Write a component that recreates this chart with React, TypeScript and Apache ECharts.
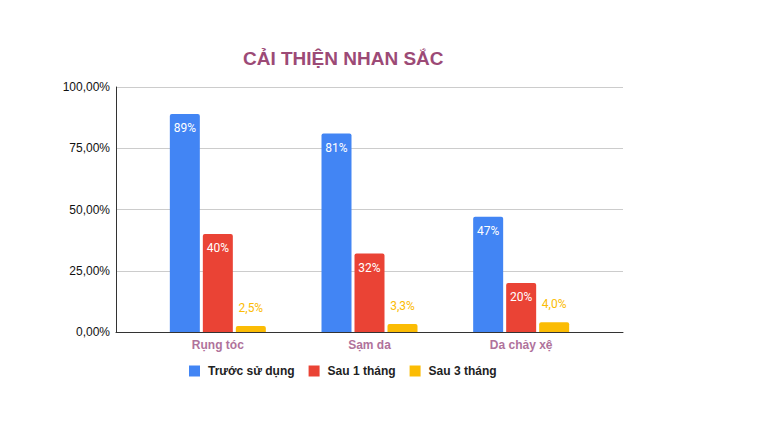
import React, { useEffect, useRef } from "react";
import * as echarts from "echarts";

const categories = ["Rụng tóc", "Sạm da", "Da chảy xệ"];
const seriesNames = ["Trước sử dụng", "Sau 1 tháng", "Sau 3 tháng"];
const truocSuDung = [0.89, 0.81, 0.47];
const sau1Thang = [0.40, 0.32, 0.20];
const sau3Thang = [0.025, 0.033, 0.04];

const colors = ["#4285F4", "#EA4335", "#FBBC04"];
const FONT = "'Liberation Sans', Arial, sans-serif";

function pct(v: number, digits: number) {
  return (v * 100).toFixed(digits).replace(".", ",") + "%";
}

export default function App() {
  const ref = useRef<HTMLDivElement>(null);
  useEffect(() => {
    if (!ref.current) return;
    const chart = echarts.init(ref.current, null, { renderer: "svg" });
    const mk = (i: number, data: number[], inside: boolean, digits: number) => ({
      name: seriesNames[i],
      type: "bar",
      xAxisIndex: 1,
      yAxisIndex: 1,
      data,
      barWidth: 30,
      barGap: "10%",
      itemStyle: { color: colors[i], borderRadius: [2, 2, 0, 0] },
      label: {
        show: true,
        position: inside ? "insideTop" : "top",
        distance: inside ? 8 : 12,
        color: inside ? "#ffffff" : colors[i],
        fontSize: 12,
        fontFamily: "Roboto, " + FONT,
        formatter: (p: any) => pct(p.value, digits),
      },
    });
    chart.setOption({
      animation: false,
      title: {
        text: "CẢI THIỆN NHAN SẮC",
        left: 238,
        top: 44,
        textStyle: { color: "#9c4a76", fontSize: 19, fontWeight: "bold", fontFamily: FONT },
      },
      legend: {
        data: seriesNames,
        left: 184,
        top: 360,
        icon: "rect",
        itemWidth: 11,
        itemHeight: 11,
        itemGap: 14,
        textStyle: {
          color: "#222222",
          fontSize: 12,
          fontWeight: "bold",
          fontFamily: FONT,
          padding: [0, 0, 0, 3],
        },
      },
      grid: [
        { left: 116, right: 145, top: 87, bottom: 112 },
        { left: 142, right: 171, top: 87, bottom: 112 },
      ],
      xAxis: [
        {
          gridIndex: 0,
          type: "value",
          min: 0,
          max: 1,
          axisLine: { show: true, lineStyle: { color: "#333333", width: 1 } },
          axisTick: { show: false },
          axisLabel: { show: false },
          splitLine: { show: false },
        },
        {
          gridIndex: 1,
          type: "category",
          data: categories,
          axisLine: { show: false },
          axisTick: { show: false },
          axisLabel: {
            margin: 7,
            color: "#b0729b",
            fontSize: 12,
            fontWeight: "bold",
            fontFamily: FONT,
          },
        },
      ],
      yAxis: [
        {
          gridIndex: 0,
          type: "value",
          min: 0,
          max: 1,
          interval: 0.25,
          axisLine: { show: true, lineStyle: { color: "#333333", width: 1 } },
          axisTick: { show: false },
          axisLabel: {
            margin: 6,
            color: "#111111",
            fontSize: 12,
            fontFamily: FONT,
            formatter: (v: number) => pct(v, 2),
          },
          splitLine: { show: true, lineStyle: { color: "#cccccc" } },
        },
        {
          gridIndex: 1,
          type: "value",
          min: 0,
          max: 1,
          show: false,
          splitLine: { show: false },
        },
      ],
      series: [
        mk(0, truocSuDung, true, 0),
        mk(1, sau1Thang, true, 0),
        mk(2, sau3Thang, false, 1),
      ],
    });
    return () => chart.dispose();
  }, []);
  return <div ref={ref} style={{ width: 768, height: 444, margin: -8 }} />;
}
